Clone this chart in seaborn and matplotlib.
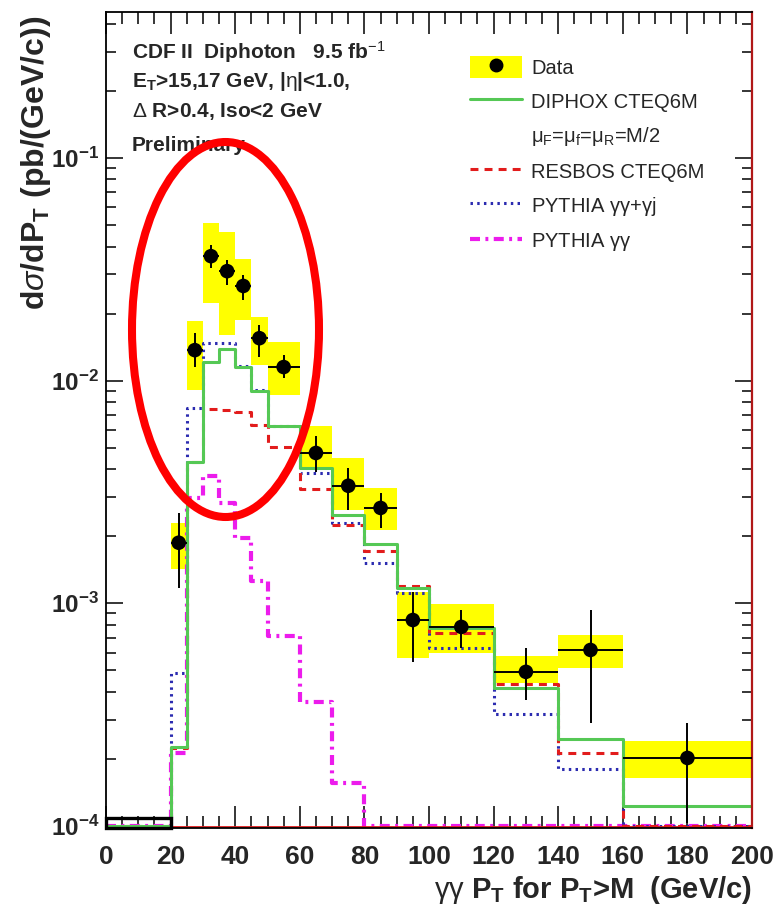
import numpy as np
import matplotlib
matplotlib.use("Agg")
import matplotlib.pyplot as plt
import seaborn as sns
from matplotlib import font_manager as fm
from matplotlib.patches import Rectangle, Ellipse
from matplotlib.lines import Line2D
from matplotlib.ticker import FixedLocator, LogLocator, MultipleLocator, NullFormatter, FuncFormatter

# ---------------- data ----------------
# pT bin edges (GeV/c)
edges = [0, 20, 25, 30, 35, 40, 45, 50, 60, 70, 80, 90, 100, 120, 140, 160, 200]

# measured dsigma/dpT for the bins from 20 GeV/c upward (pb/(GeV/c))
data_val = [1.87e-3, 1.37e-2, 3.62e-2, 3.10e-2, 2.66e-2, 1.55e-2, 1.15e-2,
            4.73e-3, 3.37e-3, 2.68e-3, 8.41e-4, 7.83e-4, 4.92e-4, 6.17e-4, 2.02e-4]
stat_hi = [2.54e-3, 1.637e-2, 4.06e-2, 3.48e-2, 2.98e-2, 1.78e-2, 1.30e-2,
           5.64e-3, 4.05e-3, 3.13e-3, 1.12e-3, 9.33e-4, 6.30e-4, 9.33e-4, 2.90e-4]
stat_lo = [1.17e-3, 1.151e-2, 3.21e-2, 2.69e-2, 2.30e-2, 1.276e-2, 1.028e-2,
           3.89e-3, 2.62e-3, 2.18e-3, 5.45e-4, 6.30e-4, 3.68e-4, 2.90e-4, 1.03e-4]
syst_hi = [2.29e-3, 1.853e-2, 5.10e-2, 4.65e-2, 3.52e-2, 1.93e-2, 1.49e-2,
           6.25e-3, 4.49e-3, 3.29e-3, 1.12e-3, 9.93e-4, 5.80e-4, 7.21e-4, 2.41e-4]
syst_lo = [1.43e-3, 9.07e-3, 2.23e-2, 1.60e-2, 1.87e-2, 1.175e-2, 8.62e-3,
           3.97e-3, 2.62e-3, 2.13e-3, 5.68e-4, 5.98e-4, 4.39e-4, 5.12e-4, 1.64e-4]

# theory predictions, one value per bin (all bins)
diphox = [0, 2.26e-4, 4.30e-3, 1.212e-2, 1.387e-2, 1.151e-2, 8.97e-3, 6.25e-3,
          4.05e-3, 2.49e-3, 1.85e-3, 1.17e-3, 7.74e-4, 4.17e-4, 2.46e-4, 1.23e-4]
resbos = [0, 2.24e-4, 4.30e-3, 7.46e-3, 7.38e-3, 7.23e-3, 6.32e-3, 5.04e-3,
          3.26e-3, 2.25e-3, 1.72e-3, 1.20e-3, 7.36e-4, 4.34e-4, 2.13e-4, 0]
pythia_gg_gj = [0, 4.86e-4, 7.54e-3, 1.475e-2, 1.475e-2, 1.163e-2, 9.07e-3, 6.25e-3,
                3.85e-3, 2.29e-3, 1.52e-3, 1.11e-3, 6.30e-4, 3.18e-4, 1.80e-4, 0]
pythia_gg = [0, 2.13e-4, 2.97e-3, 3.73e-3, 2.82e-3, 1.96e-3, 1.26e-3, 7.13e-4,
             3.61e-4, 1.56e-4, 0, 0, 0, 0, 0, 0]

x_ticks = [0, 20, 40, 60, 80, 100, 120, 140, 160, 180, 200]
y_decades = [1e-4, 1e-3, 1e-2, 1e-1]

# ---------------- fonts ----------------
def pick(families):
    for f in families:
        try:
            fm.findfont(fm.FontProperties(family=f), fallback_to_default=False)
            return f
        except Exception:
            pass
    return "DejaVu Sans"

sns.set_theme(style="ticks")
SANS = pick(["Liberation Sans", "Arial", "DejaVu Sans"])
plt.rcParams["font.family"] = [SANS, "DejaVu Sans"]
plt.rcParams["mathtext.fontset"] = "custom"
plt.rcParams["mathtext.rm"] = SANS
plt.rcParams["mathtext.it"] = SANS + ":italic"
plt.rcParams["mathtext.bf"] = SANS + ":bold"
plt.rcParams["mathtext.sf"] = SANS

# ---------------- figure ----------------
W, H = 774, 908
fig = plt.figure(figsize=(W / 100, H / 100), dpi=100)
ax = fig.add_axes([106 / W, 1 - 828 / H, (752 - 106) / W, (828 - 12) / H])
ax.set_yscale("log")
YMIN, YMAX = 9.79e-5, 0.452
ax.set_xlim(edges[0], edges[-1])
ax.set_ylim(YMIN, YMAX)

e = np.array(edges, dtype=float)
data_left = e[1:-1]
data_right = e[2:]
centers = 0.5 * (data_left + data_right)
half = 0.5 * (data_right - data_left)
floor = YMIN * 1.025

# systematic bands
ax.bar(data_left, np.array(syst_hi) - np.array(syst_lo), bottom=syst_lo,
       width=data_right - data_left, align="edge", color="#ffff00",
       edgecolor="none", zorder=1)

# theory step histograms
def step(vals, color, lw, dashes):
    v = np.maximum(np.array(vals, dtype=float), floor)
    y = np.r_[v, v[-1]]
    sns.lineplot(x=e, y=y, ax=ax, drawstyle="steps-post", color=color,
                 linewidth=lw, estimator=None, sort=False, zorder=2)
    line = ax.lines[-1]
    if dashes is not None:
        line.set_dashes(dashes)
    return line

GREEN, RED, BLUE, MAG = "#55c855", "#e21c1c", "#2b2bb0", "#ec1cec"
step(pythia_gg, MAG, 3.0, (2.4, 1.3, 0.7, 1.3))
step(pythia_gg_gj, BLUE, 2.2, (0.8, 1.4))
step(resbos, RED, 2.2, (2.6, 2.0))
step(diphox, GREEN, 2.2, None)

# empty low-pT bins drawn along the frame bottom
ax.add_patch(Rectangle((e[0], YMIN), e[1] - e[0], 1.085e-4 - YMIN, fill=False,
                       edgecolor="black", linewidth=2.4, zorder=4, clip_on=False))
ax.plot([e[1], e[-1]], [YMIN * 1.01, YMIN * 1.01], color=RED, lw=1.3, zorder=2)

# data points with statistical errors
ax.errorbar(centers, data_val,
            yerr=[np.array(data_val) - np.array(stat_lo), np.array(stat_hi) - np.array(data_val)],
            xerr=half, fmt="none", ecolor="black", elinewidth=1.4, capsize=0, zorder=5)
sns.scatterplot(x=centers, y=data_val, ax=ax, color="black", s=110,
                edgecolor="none", zorder=6)

# ---------------- axes style ----------------
for side in ["left", "top", "bottom"]:
    ax.spines[side].set_linewidth(1.3)
    ax.spines[side].set_color("black")
ax.spines["right"].set_linewidth(1.6)
ax.spines["right"].set_color("#b01818")

ax.xaxis.set_major_locator(FixedLocator(x_ticks))
ax.xaxis.set_minor_locator(MultipleLocator(5))
ax.yaxis.set_major_locator(FixedLocator(y_decades))
ax.yaxis.set_minor_locator(LogLocator(base=10, subs=np.arange(2, 10)))
ax.yaxis.set_minor_formatter(NullFormatter())
ax.yaxis.set_major_formatter(FuncFormatter(
    lambda v, p: r"$\mathbf{10^{%d}}$" % int(round(np.log10(v)))))
ax.tick_params(axis="both", which="both", direction="in", top=True, right=True,
               width=1.1, color="black")
ax.tick_params(axis="x", which="major", length=16, pad=12)
ax.tick_params(axis="x", which="minor", length=8.5)
ax.tick_params(axis="y", which="major", length=12, pad=5)
ax.tick_params(axis="y", which="minor", length=7)
for lab in ax.get_xticklabels():
    lab.set_fontweight("bold")
    lab.set_fontsize(19)
for lab in ax.get_yticklabels():
    lab.set_fontsize(17.5)

ax.set_ylabel(r"d$\sigma$/dP$_\mathbf{T}$ (pb/(GeV/c))", fontsize=23,
              fontweight="bold", loc="top")
ax.yaxis.set_label_coords(-0.082, 0.995)
ax.set_xlabel(r"$\mathrm{\gamma\gamma}$ P$_\mathbf{T}$ for P$_\mathbf{T}$>M  (GeV/c)",
              fontsize=21, fontweight="bold", loc="right", labelpad=4)

# ---------------- annotation text ----------------
tx = 132 / W
lines = [
    (59, r"CDF II  Diphoton   9.5 fb$^{-1}$"),
    (87, r"E$_\mathbf{T}$>15,17 GeV, |$\mathrm{\eta}$|<1.0,"),
    (117, r"$\Delta$ R>0.4, Iso<2 GeV"),
    (151, "Preliminary"),
]
for ypx, s in lines:
    fig.text(tx, 1 - ypx / H, s, fontsize=15, fontweight="bold",
             va="baseline", ha="left", zorder=7)

# ---------------- legend ----------------
handles = [
    (Rectangle((0, 0), 1, 1, facecolor="#ffff00", edgecolor="none"),
     Line2D([], [], marker="o", color="black", ls="none", markersize=9)),
    Line2D([], [], color=GREEN, lw=2.2),
    Line2D([], [], color="none"),
    Line2D([], [], color=RED, lw=2.2, dashes=(2.6, 2.0)),
    Line2D([], [], color=BLUE, lw=2.2, dashes=(0.8, 1.4)),
    Line2D([], [], color=MAG, lw=3.0, dashes=(2.4, 1.3, 0.7, 1.3)),
]
labels = [
    "Data",
    "DIPHOX CTEQ6M",
    r"$\mathrm{\mu_F}$=$\mathrm{\mu_f}$=$\mathrm{\mu_R}$=M/2",
    "RESBOS CTEQ6M",
    r"PYTHIA $\mathrm{\gamma\gamma}$+$\mathrm{\gamma}$j",
    r"PYTHIA $\mathrm{\gamma\gamma}$",
]
fig.legend(handles, labels, loc="upper left", bbox_to_anchor=(470 / W, 1 - 56 / H),
           frameon=False, fontsize=14.5, handlelength=2.6, handleheight=1.3,
           handletextpad=0.45, labelspacing=0.6, borderpad=0, borderaxespad=0)

# ---------------- highlight ellipse ----------------
fig.add_artist(Ellipse((225.5 / W, 1 - 329.5 / H), 187 / W, 375 / H,
                       transform=fig.transFigure, fill=False, edgecolor="#ff0000",
                       linewidth=5.8, zorder=10))

fig.savefig("out.png", dpi=100)
